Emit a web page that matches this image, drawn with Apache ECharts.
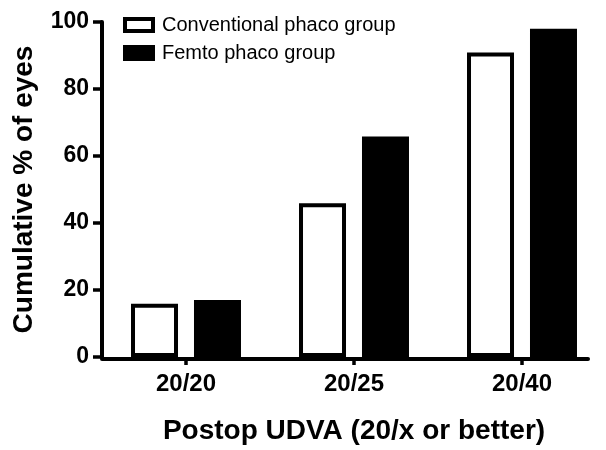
<!DOCTYPE html>
<html>
<head>
<meta charset="utf-8">
<script src="https://cdn.jsdelivr.net/npm/echarts@6/dist/echarts.min.js"></script>
<style>html,body{margin:0;padding:0;background:#fff;}#c{width:606px;height:450px;}</style>
</head>
<body>
<div id="c"></div>
<script>
var categories = ['20/20', '20/25', '20/40'];
var conventional = [15.9, 45.9, 90.9];
var femto = [17.0, 65.8, 98.0];
var yTicks = [0, 20, 40, 60, 80, 100];
var seriesNames = ['Conventional phaco group', 'Femto phaco group'];
var xTitle = 'Postop UDVA (20/x or better)';
var yTitle = 'Cumulative % of eyes';

var FONT = '"Liberation Sans", Arial, sans-serif';
var chart = echarts.init(document.getElementById('c'));
chart.setOption({
  animation: false,
  backgroundColor: '#fff',
  legend: {
    orient: 'vertical',
    left: 123, top: 15, padding: 0,
    icon: 'rect',
    itemWidth: 28, itemHeight: 12, itemGap: 8,
    textStyle: { fontFamily: FONT, fontSize: 20, color: '#000', lineHeight: 20, padding: [0, 0, 0, 4] },
    itemStyle: { borderWidth: 4 },
    data: seriesNames
  },
  grid: [
    { left: 102, right: 0, top: 22, bottom: 91, containLabel: false },
    { left: 102, right: 18, top: 22, bottom: 91, containLabel: false }
  ],
  xAxis: [
    {
      type: 'category', gridIndex: 0, data: categories,
      axisLine: { show: false },
      axisTick: { show: true, alignWithLabel: true, length: 8, lineStyle: { color: '#000', width: 3.5 } },
      axisLabel: { fontFamily: FONT, fontSize: 24, fontWeight: 'bold', color: '#000', margin: 15 },
      name: xTitle, nameLocation: 'middle', nameGap: 60,
      nameTextStyle: { fontFamily: FONT, fontSize: 28, fontWeight: 'bold', color: '#000' }
    },
    {
      type: 'value', gridIndex: 1, min: 0, max: 1,
      axisLine: { show: true, onZero: false, lineStyle: { color: '#000', width: 4 } },
      axisTick: { show: false }, axisLabel: { show: false }, splitLine: { show: false }
    }
  ],
  yAxis: [
    {
      type: 'value', gridIndex: 0, min: yTicks[0], max: yTicks[yTicks.length - 1], interval: 20,
      axisLine: { show: true, lineStyle: { color: '#000', width: 4 } },
      axisTick: { show: true, length: 9, lineStyle: { color: '#000', width: 3.5 } },
      axisLabel: { fontFamily: FONT, fontSize: 23, fontWeight: 'bold', color: '#000', margin: 13 },
      splitLine: { show: false },
      name: yTitle, nameLocation: 'middle', nameGap: 64, nameRotate: 90,
      nameTextStyle: { fontFamily: FONT, fontSize: 28, fontWeight: 'bold', color: '#000' }
    },
    {
      type: 'value', gridIndex: 1, min: 0, max: 1, show: false
    }
  ],
  series: [
    {
      name: seriesNames[0], type: 'bar', xAxisIndex: 0, yAxisIndex: 0,
      data: conventional, barWidth: 47, barGap: '34%',
      itemStyle: { color: '#fff', borderColor: '#000', borderWidth: 4 }
    },
    {
      name: seriesNames[1], type: 'bar', xAxisIndex: 0, yAxisIndex: 0,
      data: femto, barWidth: 47, barGap: '34%',
      itemStyle: { color: '#000', borderColor: '#000', borderWidth: 4 }
    }
  ]
});
</script>
</body>
</html>
